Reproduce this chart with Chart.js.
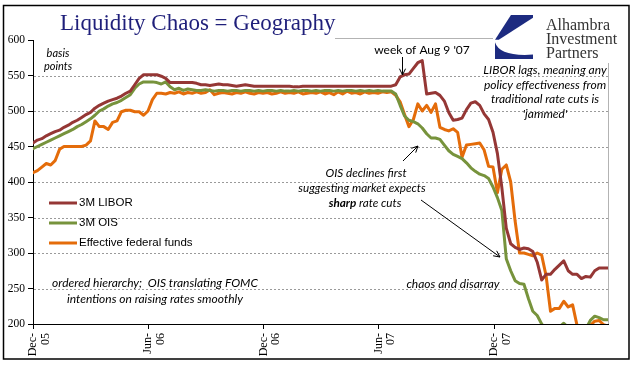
<!DOCTYPE html>
<html><head><meta charset="utf-8">
<script src="https://cdn.jsdelivr.net/npm/chart.js@4.4.1/dist/chart.umd.min.js"></script>
<style>html,body{margin:0;padding:0;background:#fff;}#wrap{width:641px;height:375px;}</style>
</head><body><div id="wrap"><canvas id="c" width="641" height="375"></canvas></div>
<script>
// ---------- data (basis points, weekly) ----------
const startDate = '2005-12-01';
const seriesNames = ['3M LIBOR', '3M OIS', 'Effective federal funds'];
const libor = [
455,459,461,465,468,471,473,477,480,484,487,491,495,498,504,508,511,514,516,518,
521,525,528,537,546,551,551,551,551,549,546,540,540,540,540,540,540,539,537,537,
536,537,538,537,537,536,535,536,537,536,535,535,535,535,535,535,535,535,535,534,
534,535,535,535,535,535,535,535,535,535,535,535,535,535,535,535,535,535,535,535,
535,535,537,548,551,552,560,568,571,524,525,526,522,514,498,487,488,490,502,511,
513,508,496,488,470,440,392,335,313,308,305,307,306,302,287,262,270,270,277,283,
289,275,270,270,264,267,266,275,279,279,279];
const ois = [
447,450,453,456,459,462,465,468,471,474,478,481,485,489,494,500,503,507,510,512,
515,519,523,532,538,541,541,541,540,538,541,534,530,532,529,531,530,529,529,530,
529,528,529,529,528,529,529,528,529,529,528,529,528,529,529,528,529,528,528,529,
528,529,529,528,529,528,529,529,528,529,528,529,529,528,529,528,529,528,529,528,
528,528,524,508,493,487,485,482,476,468,462,462,460,452,444,439,436,433,427,420,
415,411,409,405,393,378,360,292,275,261,257,256,236,218,212,200,193,190,191,196,
201,195,190,190,189,193,205,211,209,206,206];
const fedFunds = [
413,416,421,426,424,430,446,450,450,450,450,450,452,458,486,478,478,474,484,486,
499,501,501,499,499,494,500,516,525,525,524,526,525,527,524,526,525,527,525,526,
530,523,525,526,525,524,526,525,527,525,524,526,525,526,524,525,527,525,526,525,
527,524,525,526,525,527,524,526,523,527,524,528,525,526,524,527,525,526,525,527,
526,527,522,513,495,478,488,510,500,508,498,510,477,474,472,475,470,435,452,453,
454,455,445,422,421,385,418,424,400,345,300,300,298,296,300,297,268,218,222,222,
232,224,227,198,193,195,198,204,205,199,197];
const tickDates = ['2005-12-01','2006-06-01','2006-12-01','2007-06-01','2007-12-01'];
const tickLabels = [['Dec-','05'],['Jun-','06'],['Dec-','06'],['Jun-','07'],['Dec-','07']];
const yTicks = [200,250,300,350,400,450,500,550,600];

// ---------- helpers ----------
const DAY = 86400000;
const t0 = Date.parse(startDate + 'T00:00:00Z');
const weeks = libor.map((_, i) => new Date(t0 + i * 7 * DAY).toISOString().slice(0, 10));
const dayOf = d => Math.round((Date.parse(d + 'T00:00:00Z') - t0) / DAY);
const xs = weeks.map(dayOf);
const tickDays = tickDates.map(dayOf);
const pts = arr => arr.map((v, i) => ({x: xs[i], y: v}));

const COL = {libor: '#953735', ois: '#77933C', ff: '#E46C0A'};
const SERIF = '"Liberation Serif", "Times New Roman", serif';
const CAL = 'Lato, "Open Sans", sans-serif';

function arrow(ctx, x1, y1, x2, y2) {
  ctx.save();
  ctx.strokeStyle = '#000'; ctx.lineWidth = 1;
  ctx.beginPath(); ctx.moveTo(x1, y1); ctx.lineTo(x2, y2); ctx.stroke();
  const a = Math.atan2(y2 - y1, x2 - x1), L = 7, s = 0.45;
  ctx.beginPath();
  ctx.moveTo(x2 - L * Math.cos(a - s), y2 - L * Math.sin(a - s));
  ctx.lineTo(x2, y2);
  ctx.lineTo(x2 - L * Math.cos(a + s), y2 - L * Math.sin(a + s));
  ctx.stroke();
  ctx.restore();
}
function ctext(ctx, str, x, y, font, color) {
  ctx.font = font; ctx.fillStyle = color || '#000';
  ctx.textAlign = 'center'; ctx.textBaseline = 'middle';
  ctx.fillText(str, x, y);
}

const framePlugin = {
  id: 'frame',
  beforeDraw(chart) {
    const c = chart.ctx;
    c.save(); c.fillStyle = '#fff'; c.fillRect(0, 0, chart.width, chart.height); c.restore();
  },
  beforeDatasetsDraw(chart) {
    const c = chart.ctx, a = chart.chartArea, y = chart.scales.y;
    c.save();
    c.strokeStyle = '#9a9a9a'; c.lineWidth = 1; c.setLineDash([2, 2]);
    yTicks.slice(1, -1).forEach(v => {
      const py = Math.round(y.getPixelForValue(v)) + 0.5;
      c.beginPath(); c.moveTo(a.left + 1, py); c.lineTo(a.right, py); c.stroke();
    });
    c.setLineDash([]);
    c.strokeStyle = '#b3b3b3';
    const top = Math.round(y.getPixelForValue(600)) - 1.5;
    c.beginPath(); c.moveTo(335, top); c.lineTo(493, top); c.stroke();
    const rx = Math.round(a.right) + 0.5;
    c.beginPath(); c.moveTo(rx, 63); c.lineTo(rx, a.bottom); c.stroke();
    c.restore();
  },
  afterDraw(chart) {
    const c = chart.ctx;
    c.save();
    // outer border
    c.strokeStyle = '#000'; c.lineWidth = 1.5;
    c.strokeRect(3.5, 5.5, 625.5, 353.5);
    // title
    c.font = '23px ' + SERIF; c.fillStyle = '#1f1f7a';
    c.textAlign = 'left'; c.textBaseline = 'alphabetic';
    c.fillText('Liquidity Chaos = Geography', 60, 30);
    // logo icon
    const lx = 495, ly = 15, lw = 38, lh = 44;
    c.fillStyle = '#1d2b80';
    c.beginPath();
    c.moveTo(lx + lw * 0.42, ly); c.lineTo(lx + lw, ly); c.lineTo(lx + lw, ly + lh * 0.06);
    c.lineTo(lx + lw * 0.1, ly + lh * 0.56); c.lineTo(lx, ly + lh * 0.56); c.closePath(); c.fill();
    c.beginPath();
    c.moveTo(lx, ly + lh * 0.62);
    c.quadraticCurveTo(lx + lw * 0.12, ly + lh * 0.95, lx + lw, ly + lh * 0.9);
    c.lineTo(lx + lw, ly + lh); c.lineTo(lx, ly + lh); c.closePath(); c.fill();
    c.font = '16px ' + SERIF; c.fillStyle = '#333'; c.textAlign = 'left';
    c.fillText('Alhambra', 546, 30);
    c.fillText('Investment', 546, 44);
    c.fillText('Partners', 546, 58);
    // legend
    chart.data.datasets.forEach((ds, i) => {
      const yy = 203 + i * 20;
      c.strokeStyle = ds.borderColor; c.lineWidth = 3;
      c.beginPath(); c.moveTo(49, yy); c.lineTo(77, yy); c.stroke();
      c.font = '11.5px "Liberation Sans", Arial, sans-serif'; c.fillStyle = '#000';
      c.textAlign = 'left'; c.textBaseline = 'middle';
      c.fillText(ds.label, 79, yy);
    });
    // annotations
    const it = sz => 'italic ' + sz + 'px ' + CAL;
    ctext(c, 'basis', 58, 53, it(11));
    ctext(c, 'points', 58, 66, it(11));
    ctext(c, "week of Aug 9 '07", 422, 50, '12px ' + CAL);
    arrow(c, 402.5, 57, 402.5, 75);
    ['LIBOR lags, meaning any', 'policy effectiveness from', 'traditional rate cuts is', "'jammed'"]
      .forEach((s, i) => ctext(c, s, 545, 70 + i * 14.7, it(12)));
    ctext(c, 'OIS declines first', 366, 173, it(11.7));
    ctext(c, 'suggesting market expects', 362, 188, it(11.7));
    // mixed bold line
    c.textBaseline = 'middle'; c.textAlign = 'left';
    const b = 'italic bold 11.7px ' + CAL, n = it(11.7);
    c.font = b; const w1 = c.measureText('sharp').width;
    c.font = n; const w2 = c.measureText(' rate cuts').width;
    let sx = 365 - (w1 + w2) / 2;
    c.font = b; c.fillText('sharp', sx, 203);
    c.font = n; c.fillText(' rate cuts', sx + w1, 203);
    arrow(c, 403, 161, 418, 146);
    arrow(c, 421, 200, 500, 257);
    ctext(c, 'chaos and disarray', 453, 284, it(12));
    ctext(c, 'ordered hierarchy;  OIS translating FOMC', 155, 283, it(12));
    ctext(c, 'intentions on raising rates smoothly', 155, 299, it(12));
    c.restore();
  }
};

const lineDs = (label, arr, color) => ({
  label, data: pts(arr), borderColor: color, backgroundColor: color,
  borderWidth: 3, pointRadius: 0, tension: 0, fill: false, clip: 0,
  borderJoinStyle: 'round', borderCapStyle: 'round'
});

new Chart(document.getElementById('c'), {
  type: 'line',
  data: {
    labels: weeks,
    datasets: [
      lineDs(seriesNames[0], libor, COL.libor),
      lineDs(seriesNames[1], ois, COL.ois),
      lineDs(seriesNames[2], fedFunds, COL.ff)
    ]
  },
  options: {
    responsive: false, animation: false, devicePixelRatio: 1,
    layout: {padding: {left: 0, top: 40, right: 33, bottom: 0}},
    plugins: {legend: {display: false}, tooltip: {enabled: false}},
    scales: {
      x: {
        type: 'linear', min: 0, max: xs[xs.length - 1],
        afterFit: s => { s.height = 51; },
        afterBuildTicks: s => { s.ticks = tickDays.map(v => ({value: v})); },
        ticks: {
          autoSkip: false, minRotation: 90, maxRotation: 90, padding: 4, color: '#000',
          font: {family: SERIF, size: 12, lineHeight: 1.05},
          callback: (v, i) => tickLabels[i]
        },
        grid: {drawOnChartArea: false, drawTicks: true, tickLength: 5, color: '#000'},
        border: {color: '#000', width: 1}
      },
      y: {
        min: 200, max: 600,
        afterFit: s => { s.width = 33; },
        afterBuildTicks: s => { s.ticks = yTicks.map(v => ({value: v})); },
        ticks: {padding: 3, color: '#000', font: {family: SERIF, size: 11.5}},
        grid: {drawOnChartArea: false, drawTicks: true, tickLength: 5, color: '#000'},
        border: {color: '#000', width: 1}
      }
    }
  },
  plugins: [framePlugin]
});
</script>
</body></html>
